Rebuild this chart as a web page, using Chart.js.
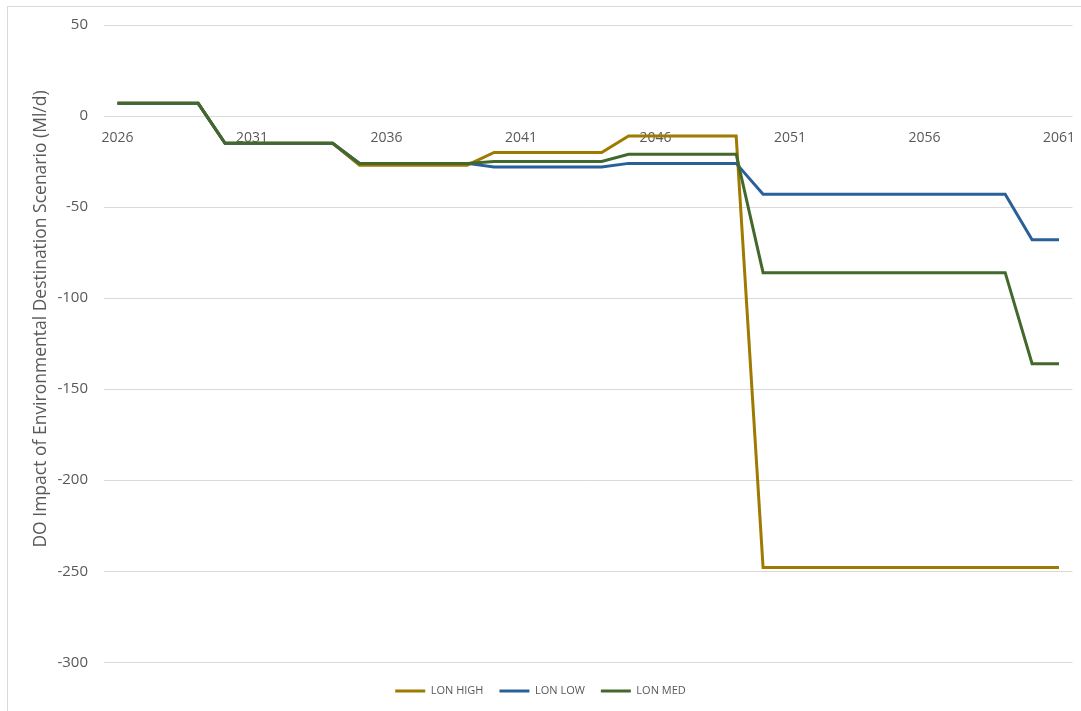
<!DOCTYPE html>
<html>
<head>
<meta charset="utf-8">
<script src="https://cdn.jsdelivr.net/npm/chart.js@4.4.1/dist/chart.umd.min.js"></script>
<style>
  html, body { margin: 0; padding: 0; background: #fff; }
  #wrap { position: relative; width: 1081px; height: 711px; overflow: hidden; }
  #frame { position: absolute; left: 7px; top: 6px; right: -2px; bottom: -2px; border: 1px solid #d9d9d9; }
  canvas { position: absolute; left: 0; top: 0; }
</style>
</head>
<body>
<div id="wrap">
  <div id="frame"></div>
  <canvas id="myChart" width="1081" height="711"></canvas>
</div>
<script>
const years = [];
for (let y = 2026; y <= 2061; y++) years.push(String(y));

// values (Ml/d)
const lonHigh = [7, 7, 7, 7, -15, -15, -15, -15, -15, -27, -27, -27, -27, -27, -20, -20, -20, -20, -20,
    -11, -11, -11, -11, -11, -248, -248, -248, -248, -248, -248, -248, -248, -248, -248, -248, -248];
const lonLow = [7, 7, 7, 7, -15, -15, -15, -15, -15, -26, -26, -26, -26, -26, -28, -28, -28, -28, -28,
    -26, -26, -26, -26, -26, -43, -43, -43, -43, -43, -43, -43, -43, -43, -43, -68, -68];
const lonMed = [7, 7, 7, 7, -15, -15, -15, -15, -15, -26, -26, -26, -26, -26, -25, -25, -25, -25, -25,
    -21, -21, -21, -21, -21, -86, -86, -86, -86, -86, -86, -86, -86, -86, -86, -136, -136];

const seriesNames = ['LON HIGH', 'LON LOW', 'LON MED'];
const colors = ['#9E7A00', '#2A6099', '#43682B'];
const yTitle = 'DO Impact of Environmental Destination Scenario (Ml/d)';

const font = "'Open Sans', 'Noto Sans', sans-serif";

// y axis title, drawn a bit above the plot's middle like the original
const yTitlePlugin = {
    id: 'yTitle',
    afterDraw(chart) {
        const c = chart.ctx;
        c.save();
        c.translate(41, 319);
        c.rotate(-Math.PI / 2);
        c.font = '17.5px ' + font;
        c.fillStyle = '#595959';
        c.textAlign = 'center';
        c.textBaseline = 'middle';
        c.fillText(yTitle, 0, 0);
        c.restore();
    }
};

const ctx = document.getElementById('myChart').getContext('2d');

const myChart = new Chart(ctx, {
    type: 'line',
    data: {
        labels: years,
        datasets: [lonHigh, lonLow, lonMed].map((d, i) => ({
            label: seriesNames[i],
            data: d,
            borderColor: colors[i],
            backgroundColor: colors[i],
            borderWidth: 3,
            pointRadius: 0,
            tension: 0,
            order: 3 - i
        }))
    },
    options: {
        responsive: false,
        animation: false,
        layout: {
            padding: { top: 14, right: 0, bottom: 4.5, left: 0 }
        },
        scales: {
            x: {
                position: { y: 0 },
                offset: true,
                grid: { display: false },
                border: { display: false },
                ticks: {
                    autoSkip: false,
                    maxRotation: 0,
                    padding: 6,
                    color: '#595959',
                    font: { family: font, size: 14 },
                    callback: function (v, i) {
                        return i % 5 === 0 ? this.getLabelForValue(v) : '';
                    }
                }
            },
            y: {
                min: -300,
                max: 50,
                ticks: {
                    stepSize: 50,
                    padding: 16,
                    color: '#595959',
                    font: { family: font, size: 15 }
                },
                grid: { color: '#d9d9d9', lineWidth: 1, drawTicks: false },
                border: { display: false },
                afterFit: function (scale) { scale.width = 104; }
            }
        },
        plugins: {
            // 圖例
            legend: {
                position: 'bottom',
                // empty title only adds space above the items
                title: { display: true, text: '', font: { size: 1 }, padding: 3 },
                labels: {
                    usePointStyle: true,
                    pointStyle: 'line',
                    pointStyleWidth: 30,
                    color: '#595959',
                    font: { family: font, size: 11 },
                    padding: 16,
                    sort: (a, b) => a.datasetIndex - b.datasetIndex
                }
            },
            tooltip: { enabled: false }
        }
    },
    plugins: [yTitlePlugin]
});
</script>
</body>
</html>
